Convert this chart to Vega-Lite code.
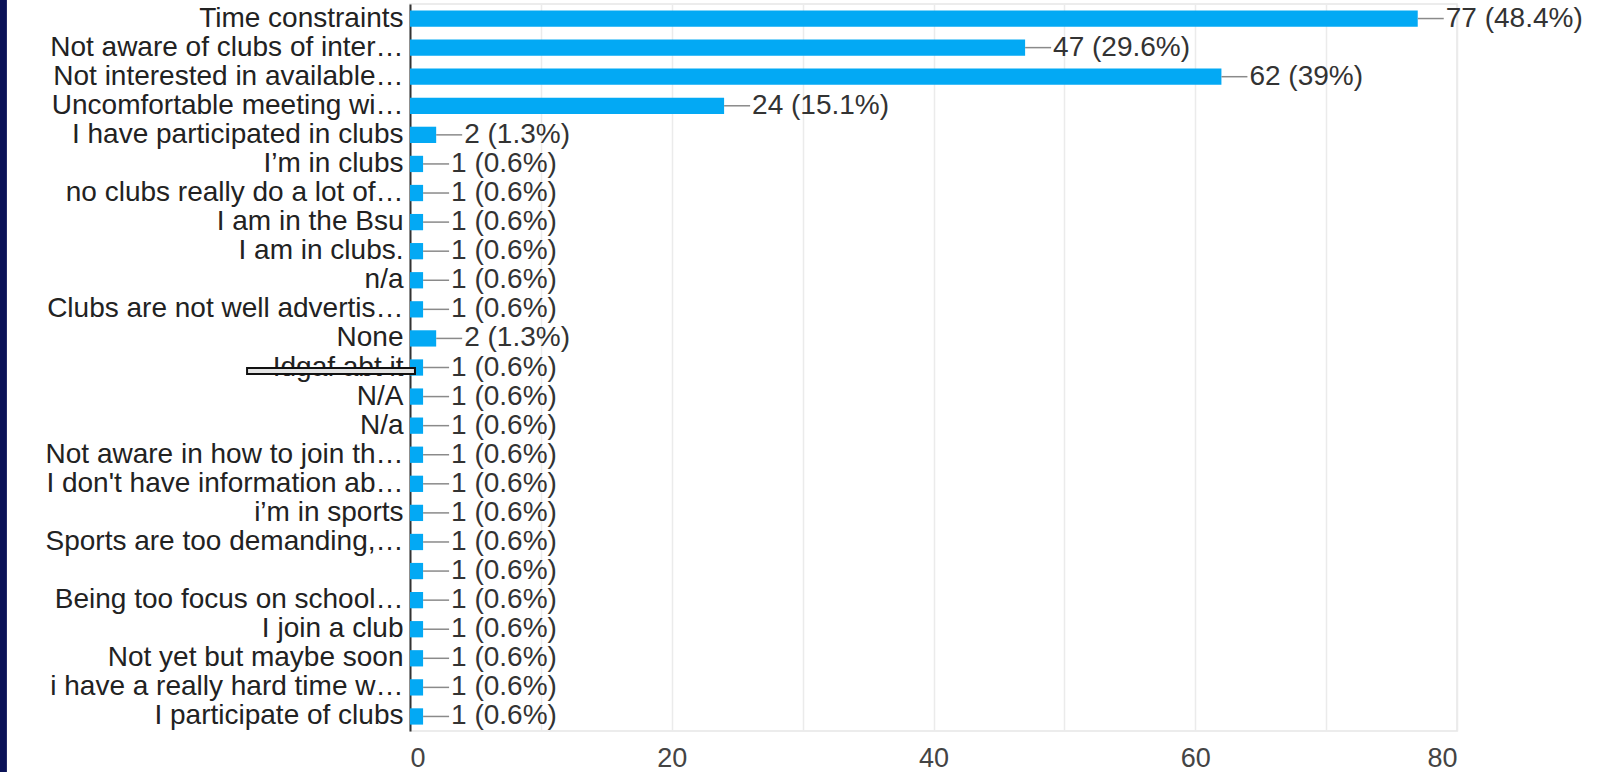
{
  "$schema": "https://vega.github.io/schema/vega-lite/v6.json",
  "autosize": {"type": "none"},
  "width": 1047,
  "height": 727,
  "padding": {"left": 410, "top": 4, "right": 147, "bottom": 41},
  "background": "white",
  "config": {
    "font": "Liberation Sans",
    "view": {"stroke": "#e6e6e6", "strokeWidth": 1.5}
  },
  "datasets": {
    "reasons": [
      {"reason": "Time constraints", "count": 77, "label": "77 (48.4%)"},
      {"reason": "Not aware of clubs of inter…", "count": 47, "label": "47 (29.6%)"},
      {"reason": "Not interested in available…", "count": 62, "label": "62 (39%)"},
      {"reason": "Uncomfortable meeting wi…", "count": 24, "label": "24 (15.1%)"},
      {"reason": "I have participated in clubs", "count": 2, "label": "2 (1.3%)"},
      {"reason": "I’m in clubs", "count": 1, "label": "1 (0.6%)"},
      {"reason": "no clubs really do a lot of…", "count": 1, "label": "1 (0.6%)"},
      {"reason": "I am in the Bsu", "count": 1, "label": "1 (0.6%)"},
      {"reason": "I am in clubs.", "count": 1, "label": "1 (0.6%)"},
      {"reason": "n/a", "count": 1, "label": "1 (0.6%)"},
      {"reason": "Clubs are not well advertis…", "count": 1, "label": "1 (0.6%)"},
      {"reason": "None", "count": 2, "label": "2 (1.3%)"},
      {"reason": "Idgaf abt it", "count": 1, "label": "1 (0.6%)"},
      {"reason": "N/A", "count": 1, "label": "1 (0.6%)"},
      {"reason": "N/a", "count": 1, "label": "1 (0.6%)"},
      {"reason": "Not aware in how to join th…", "count": 1, "label": "1 (0.6%)"},
      {"reason": "I don't have information ab…", "count": 1, "label": "1 (0.6%)"},
      {"reason": "i’m in sports", "count": 1, "label": "1 (0.6%)"},
      {"reason": "Sports are too demanding,…", "count": 1, "label": "1 (0.6%)"},
      {"reason": "", "count": 1, "label": "1 (0.6%)"},
      {"reason": "Being too focus on school…", "count": 1, "label": "1 (0.6%)"},
      {"reason": "I join a club", "count": 1, "label": "1 (0.6%)"},
      {"reason": "Not yet but maybe soon", "count": 1, "label": "1 (0.6%)"},
      {"reason": "i have a really hard time w…", "count": 1, "label": "1 (0.6%)"},
      {"reason": "I participate of clubs", "count": 1, "label": "1 (0.6%)"}
    ],
    "strike": [
      {"reason": "Idgaf abt it", "from": -12.45, "to": 0.38}
    ],
    "edge": [
      {"from": -31.4, "to": -30.8}
    ]
  },
  "layer": [
    {
      "data": {"name": "reasons"},
      "mark": {"type": "bar", "color": "#03a9f4", "height": {"band": 0.56}},
      "encoding": {
        "y": {
          "field": "reason",
          "type": "nominal",
          "scale": {
            "paddingInner": 0,
            "paddingOuter": 0,
            "domain": [
              "Time constraints",
              "Not aware of clubs of inter…",
              "Not interested in available…",
              "Uncomfortable meeting wi…",
              "I have participated in clubs",
              "I’m in clubs",
              "no clubs really do a lot of…",
              "I am in the Bsu",
              "I am in clubs.",
              "n/a",
              "Clubs are not well advertis…",
              "None",
              "Idgaf abt it",
              "N/A",
              "N/a",
              "Not aware in how to join th…",
              "I don't have information ab…",
              "i’m in sports",
              "Sports are too demanding,…",
              "",
              "Being too focus on school…",
              "I join a club",
              "Not yet but maybe soon",
              "i have a really hard time w…",
              "I participate of clubs"
            ]
          },
          "axis": {
            "title": null,
            "ticks": false,
            "domain": true,
            "domainColor": "#333333",
            "domainWidth": 2,
            "labelFontSize": 28,
            "labelColor": "#222222",
            "labelPadding": 7,
            "labelLimit": 0,
            "grid": false
          }
        },
        "x": {
          "field": "count",
          "type": "quantitative",
          "scale": {"domain": [0, 80], "nice": false, "zero": true},
          "axis": {
            "title": null,
            "values": [0, 10, 20, 30, 40, 50, 60, 70, 80],
            "labelExpr": "datum.value % 20 === 0 ? datum.label : ''",
            "grid": true,
            "gridColor": "#ebebeb",
            "gridWidth": 1.5,
            "domain": false,
            "ticks": false,
            "labelFontSize": 27,
            "labelColor": "#444444",
            "labelPadding": 14
          }
        }
      }
    },
    {
      "data": {"name": "reasons"},
      "mark": {"type": "rule", "color": "#8a8a8a", "strokeWidth": 1.5, "x2Offset": 26},
      "encoding": {
        "y": {"field": "reason", "type": "nominal"},
        "x": {"field": "count", "type": "quantitative"},
        "x2": {"field": "count"}
      }
    },
    {
      "data": {"name": "reasons"},
      "mark": {"type": "text", "align": "left", "baseline": "middle", "dx": 28, "fontSize": 28, "color": "#333333"},
      "encoding": {
        "y": {"field": "reason", "type": "nominal"},
        "x": {"field": "count", "type": "quantitative"},
        "text": {"field": "label"}
      }
    },
    {
      "data": {"name": "strike"},
      "mark": {"type": "bar", "color": "#e4e4e4", "stroke": "#111111", "strokeWidth": 2, "height": 6, "yOffset": 3.5, "clip": false},
      "encoding": {
        "y": {"field": "reason", "type": "nominal"},
        "x": {"field": "from", "type": "quantitative"},
        "x2": {"field": "to"}
      }
    },
    {
      "data": {"name": "edge"},
      "mark": {"type": "rect", "color": "#0a1257", "yOffset": -4, "y2Offset": 41, "clip": false},
      "encoding": {
        "x": {"field": "from", "type": "quantitative"},
        "x2": {"field": "to"},
        "y": {"value": 0},
        "y2": {"value": "height"}
      }
    }
  ]
}
